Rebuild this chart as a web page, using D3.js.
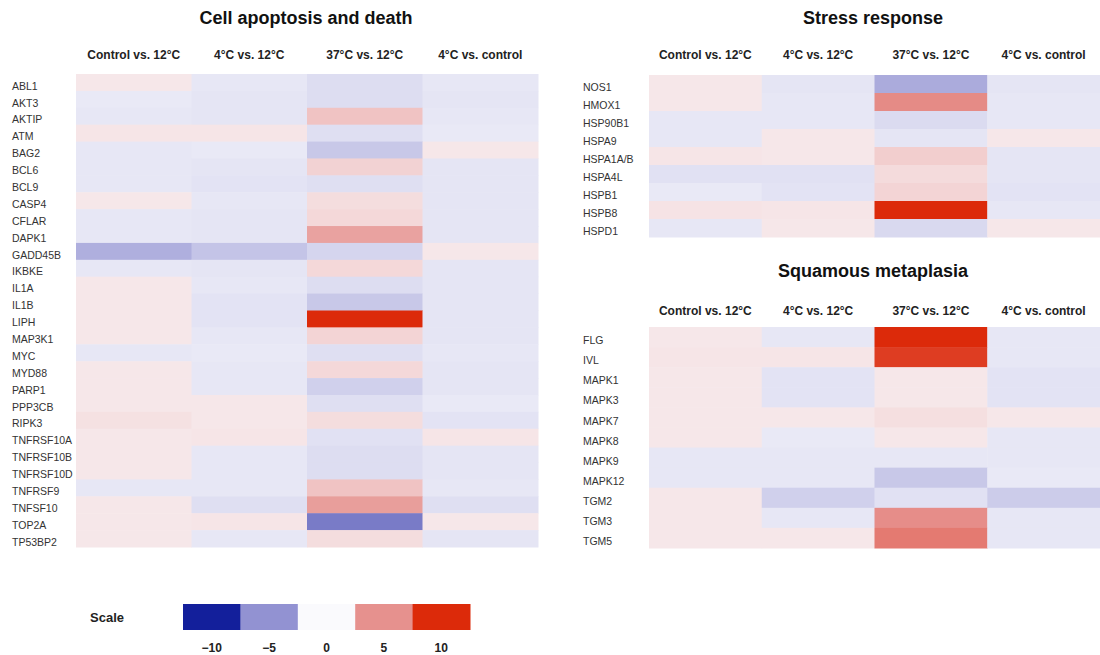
<!DOCTYPE html>
<html>
<head>
<meta charset="utf-8">
<script src="https://cdn.jsdelivr.net/npm/d3@7"></script>
<style>
  html, body { margin: 0; padding: 0; background: #fff; }
  svg { display: block; font-family: "Liberation Sans", Arial, Helvetica, sans-serif; }
</style>
</head>
<body>
<svg id="chart" width="1100" height="655"></svg>
<script>
// Comparisons shown as heatmap columns
const comparisons = ["Control vs. 12°C", "4°C vs. 12°C", "37°C vs. 12°C", "4°C vs. control"];

// Cell apoptosis and death: fold changes, one row per gene, one value per comparison
const apoptosisGenes = ["ABL1", "AKT3", "AKTIP", "ATM", "BAG2", "BCL6", "BCL9", "CASP4", "CFLAR", "DAPK1",
  "GADD45B", "IKBKE", "IL1A", "IL1B", "LIPH", "MAP3K1", "MYC", "MYD88", "PARP1", "PPP3CB", "RIPK3",
  "TNFRSF10A", "TNFRSF10B", "TNFRSF10D", "TNFRSF9", "TNFSF10", "TOP2A", "TP53BP2"];
const apoptosisValues = [
  [0.9, -0.9, -1.4, -0.9],
  [-0.8, -1.0, -1.4, -1.0],
  [-0.9, -1.0, 2.6, -0.9],
  [1.0, 1.0, -1.3, -0.8],
  [-0.9, -0.8, -2.4, 0.9],
  [-0.9, -1.0, 1.9, -1.0],
  [-0.9, -1.1, -1.3, -1.0],
  [0.9, -0.9, 1.4, -1.0],
  [-0.9, -1.0, 1.6, -1.0],
  [-0.9, -1.0, 4.2, -1.0],
  [-3.6, -2.6, -1.8, 0.9],
  [-0.9, -1.0, 1.6, -1.0],
  [0.9, -0.9, -1.4, -1.0],
  [0.9, -1.1, -2.4, -1.0],
  [0.9, -1.1, 10, -1.0],
  [0.9, -0.9, 1.8, -1.0],
  [-0.9, -0.8, -1.3, -0.9],
  [0.9, -0.9, 1.6, -1.0],
  [0.9, -0.9, -2.0, -1.0],
  [0.9, 0.9, -1.3, -0.8],
  [1.2, 0.9, 1.4, -1.1],
  [0.9, 1.0, -1.2, 1.0],
  [0.9, -0.9, -1.4, -1.0],
  [0.9, -0.9, -1.4, -1.0],
  [-0.9, -0.9, 2.6, -0.9],
  [0.9, -1.3, 4.4, -1.3],
  [0.9, 1.0, -6.0, 0.9],
  [0.9, -0.9, 1.4, -1.0]
];

// Stress response
const stressGenes = ["NOS1", "HMOX1", "HSP90B1", "HSPA9", "HSPA1A/B", "HSPA4L", "HSPB1", "HSPB8", "HSPD1"];
const stressValues = [
  [0.9, -1.0, -3.8, -1.0],
  [0.9, -0.9, 5.3, -0.9],
  [-0.9, -0.9, -1.5, -0.9],
  [-0.9, 0.9, -1.0, 0.9],
  [1.0, 0.9, 2.1, -1.0],
  [-1.2, -1.2, 1.5, -1.0],
  [-0.8, -1.1, 1.8, -1.1],
  [1.1, 1.0, 10, -0.9],
  [-0.9, 0.9, -1.6, 0.9]
];

// Squamous metaplasia
const squamousGenes = ["FLG", "IVL", "MAPK1", "MAPK3", "MAPK7", "MAPK8", "MAPK9", "MAPK12", "TGM2", "TGM3", "TGM5"];
const squamousValues = [
  [0.9, -0.9, 10, -0.9],
  [1.0, 1.0, 9.1, -0.9],
  [0.9, -1.1, 0.9, -1.1],
  [0.9, -1.1, 0.9, -1.1],
  [0.9, 0.9, 1.3, 0.9],
  [0.9, -0.8, 0.9, -0.9],
  [-0.9, -0.9, -0.9, -0.9],
  [-0.9, -0.9, -2.4, -0.8],
  [0.9, -2.0, -1.2, -2.2],
  [0.9, -0.9, 5.2, -0.9],
  [0.9, 0.9, 6.1, -0.9]
];

// Legend ticks and the colours at those values
const scaleTicks = [-10, -5, 0, 5, 10];
const scaleStops = ["#131f9b", "#9292d2", "#fafafd", "#e6918e", "#dc2a0a"];

const color = d3.scaleLinear().domain(scaleTicks).range(scaleStops).clamp(true);

const svg = d3.select("#chart");

function drawHeatmap(cfg) {
  const g = svg.append("g");
  const x = d3.scaleBand().domain(comparisons).range([cfg.x0, cfg.x1]);
  const y = d3.scaleBand().domain(cfg.genes).range([cfg.y0, cfg.y1]);

  g.append("text")
    .attr("x", cfg.titleX)
    .attr("y", cfg.titleY)
    .attr("text-anchor", "middle")
    .attr("font-size", 18)
    .attr("font-weight", "bold")
    .attr("fill", "#111")
    .text(cfg.title);

  g.selectAll("text.col")
    .data(comparisons)
    .join("text")
    .attr("class", "col")
    .attr("x", d => x(d) + x.bandwidth() / 2)
    .attr("y", cfg.colLabelY)
    .attr("text-anchor", "middle")
    .attr("font-size", 12)
    .attr("font-weight", "bold")
    .attr("fill", "#222")
    .text(d => d);

  const cells = [];
  cfg.genes.forEach((gene, i) => {
    cfg.values[i].forEach((v, j) => cells.push({ gene, comp: comparisons[j], v }));
  });

  g.selectAll("rect.cell")
    .data(cells)
    .join("rect")
    .attr("class", "cell")
    .attr("x", d => x(d.comp))
    .attr("y", d => y(d.gene))
    .attr("width", x.bandwidth() + 0.5)
    .attr("height", y.bandwidth() + 0.5)
    .attr("fill", d => color(d.v));

  // gene names sit slightly below the centre of their row
  g.selectAll("text.row")
    .data(cfg.genes)
    .join("text")
    .attr("class", "row")
    .attr("x", cfg.labelX)
    .attr("y", d => y(d) + y.bandwidth() / 2 + 3.5)
    .attr("dy", "0.35em")
    .attr("font-size", 10.5)
    .attr("fill", "#333")
    .text(d => d);
}

drawHeatmap({
  title: "Cell apoptosis and death", genes: apoptosisGenes, values: apoptosisValues,
  x0: 76, x1: 538, y0: 74, y1: 547, labelX: 12, titleX: 306, titleY: 24, colLabelY: 59
});

drawHeatmap({
  title: "Stress response", genes: stressGenes, values: stressValues,
  x0: 649, x1: 1100, y0: 75, y1: 237, labelX: 583, titleX: 873, titleY: 24, colLabelY: 59
});

drawHeatmap({
  title: "Squamous metaplasia", genes: squamousGenes, values: squamousValues,
  x0: 649, x1: 1100, y0: 327, y1: 548, labelX: 583, titleX: 873, titleY: 277, colLabelY: 315
});

// Colour scale legend
const legend = svg.append("g");
const lx = d3.scaleBand().domain(scaleTicks).range([183, 470]);

legend.append("text")
  .attr("x", 90).attr("y", 617).attr("dy", "0.35em")
  .attr("font-size", 13).attr("font-weight", "bold").attr("fill", "#222")
  .text("Scale");

legend.selectAll("rect")
  .data(scaleTicks)
  .join("rect")
  .attr("x", d => lx(d))
  .attr("y", 604)
  .attr("width", lx.bandwidth() + 0.5)
  .attr("height", 26)
  .attr("fill", d => color(d));

legend.selectAll("text.tick")
  .data(scaleTicks)
  .join("text")
  .attr("class", "tick")
  .attr("x", d => lx(d) + lx.bandwidth() / 2)
  .attr("y", 648).attr("dy", "0.35em")
  .attr("text-anchor", "middle")
  .attr("font-size", 12).attr("font-weight", "bold").attr("fill", "#222")
  .text(d => d < 0 ? "\u2212" + Math.abs(d) : String(d));
</script>
</body>
</html>
